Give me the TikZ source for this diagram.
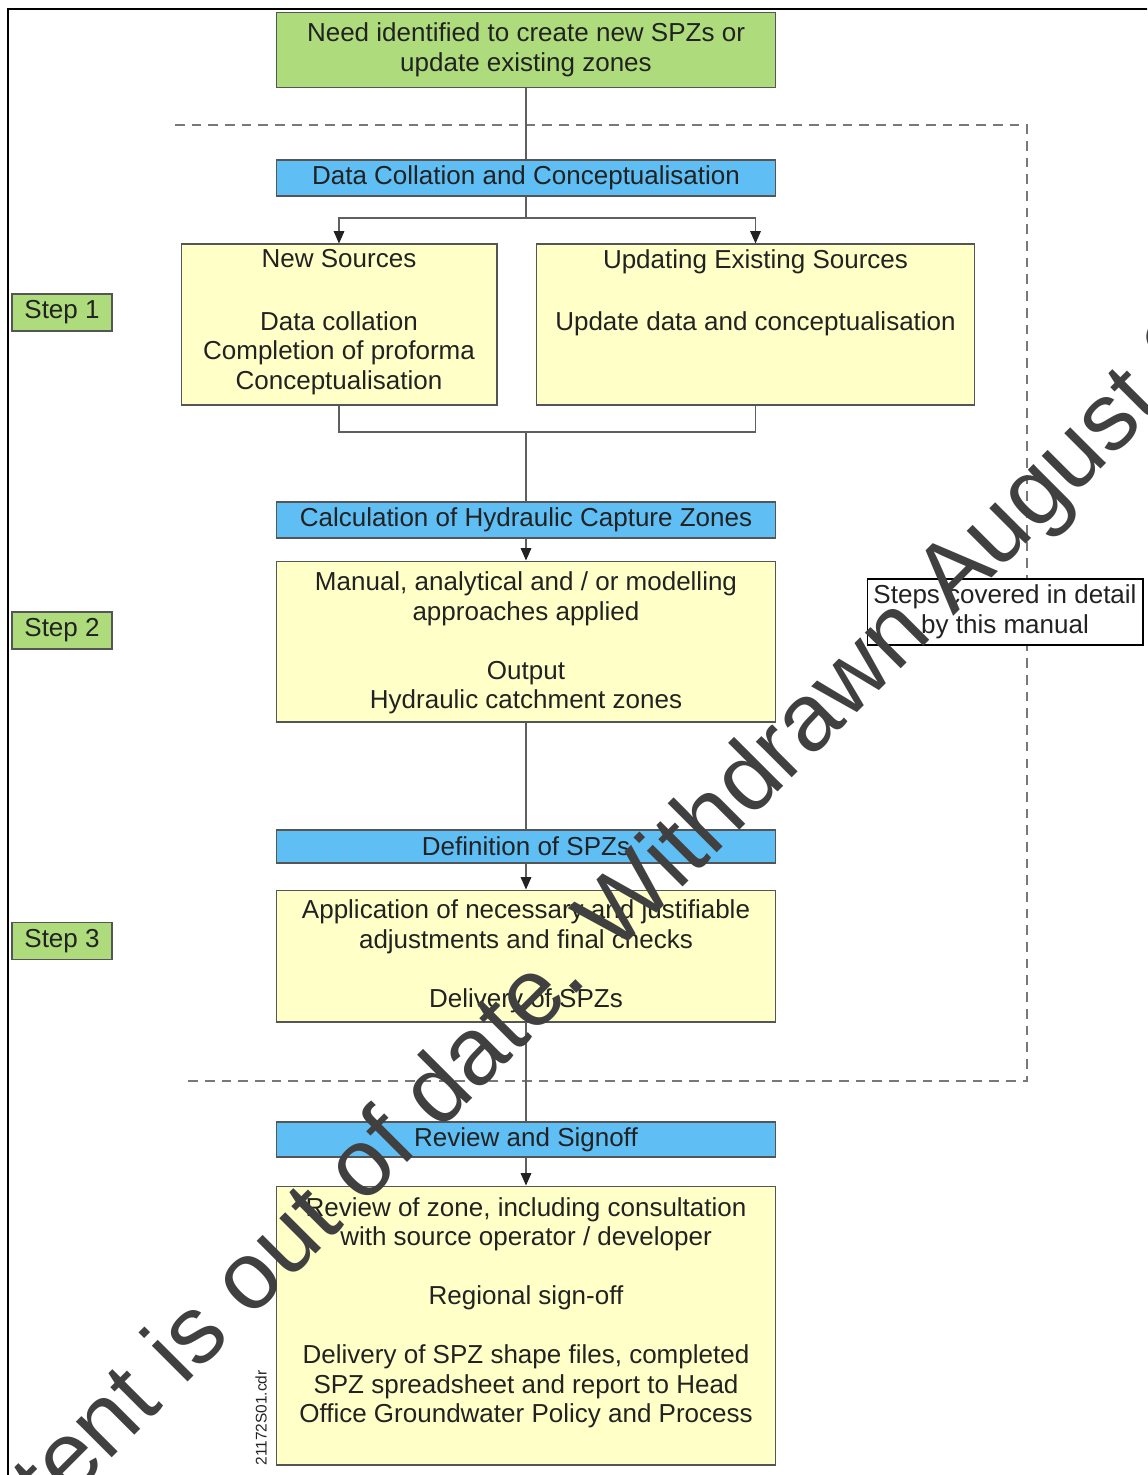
\documentclass[tikz,border=0pt]{standalone}
\usepackage{fontspec}
\setmainfont{Liberation Sans}
\usetikzlibrary{positioning,arrows.meta}

\definecolor{spzgreen}{RGB}{174,220,124}
\definecolor{spzblue}{RGB}{95,190,243}
\definecolor{spzyellow}{RGB}{255,255,200}
\definecolor{boxline}{RGB}{85,85,85}
\definecolor{linkgray}{RGB}{95,95,95}
\definecolor{dashgray}{RGB}{120,120,120}
\definecolor{inkdark}{RGB}{34,34,34}
\definecolor{markgray}{RGB}{64,64,64}

\newcommand{\boxfont}{\fontsize{14.8}{16.8}\selectfont}
\newcommand{\markfont}{\fontsize{54.5}{60}\selectfont}
\newcommand{\tagfont}{\fontsize{8.8}{10}\selectfont}

\tikzset{
  basebox/.style={draw=boxline, line width=0.6pt, text=inkdark, font=\boxfont, align=center, inner sep=0pt},
  greenbox/.style={basebox, fill=spzgreen},
  bluebar/.style={basebox, fill=spzblue, minimum width=10cm},
  yellowbox/.style={basebox, fill=spzyellow},
  stepbox/.style={basebox, fill=spzgreen, minimum width=2cm, minimum height=0.74cm},
  notebox/.style={basebox, draw=black, fill=white},
  boxtext/.style={text=inkdark, font=\boxfont, align=center, inner sep=0pt},
  link/.style={draw=linkgray, line width=0.7pt},
}

\begin{document}
\begin{tikzpicture}[x=0.02cm, y=-0.02cm, >={Triangle[length=7pt,width=6pt,color=inkdark]}]

	\useasboundingbox (0,0) rectangle (1147,1475);
	\clip (0,0) rectangle (1147,1475);

	% FRAME
	\draw[black, line width=1.4pt] (8,1480) -- (8,9) -- (1150,9);

	% MANUAL SCOPE
	\draw[dashgray, line width=0.8pt, dash pattern=on 5.5pt off 4pt] (175,125) -- (1027,125) -- (1027,1081) -- (183,1081);

	% Start
	\node[greenbox, minimum width=10cm, minimum height=1.5cm] (need) at (526,50) {Need identified to create new SPZs or\\update existing zones};

	% Step 1
	\node[bluebar, minimum height=0.72cm] (dcc) at (526,178) {Data Collation and Conceptualisation};
	\node[yellowbox, minimum width=6.32cm, minimum height=3.22cm] (ns) at (339,324.5) {};
	\node[boxtext, below=0.11cm of ns.north] (ns-text) {New Sources\\[2pt]~\\Data collation\\Completion of proforma\\Conceptualisation};
	\node[yellowbox, minimum width=8.78cm, minimum height=3.22cm] (ues) at (755.5,324.5) {};
	\node[boxtext, below=0.11cm of ues.north] (ues-text) {Updating Existing Sources\\[2pt]~\\Update data and conceptualisation};

	% Step 2
	\node[bluebar, minimum height=0.72cm] (hcz) at (526,520) {Calculation of Hydraulic Capture Zones};
	\node[yellowbox, minimum width=10cm, minimum height=3.22cm] (mam) at (526,641.5) {};
	\node[boxtext, below=0.22cm of mam.north] (mam-text) {Manual, analytical and / or modelling\\approaches applied\\~\\Output\\Hydraulic catchment zones};

	% Step 3
	\node[bluebar, minimum height=0.66cm] (defn) at (526,846.5) {Definition of SPZs};
	\node[yellowbox, minimum width=10cm, minimum height=2.64cm] (adj) at (526,956) {};
	\node[boxtext, below=0.2cm of adj.north] (adj-text) {Application of necessary and justifiable\\adjustments and final checks\\~\\Delivery of SPZs};

	% Signoff
	\node[bluebar, minimum height=0.7cm] (rev) at (526,1139.5) {Review and Signoff};
	\node[yellowbox, minimum width=10cm, minimum height=5.58cm] (del) at (526,1325.5) {};
	\node[boxtext, below=0.23cm of del.north] (del-text) {Review of zone, including consultation\\with source operator / developer\\~\\Regional sign-off\\~\\Delivery of SPZ shape files, completed\\SPZ spreadsheet and report to Head\\Office Groundwater Policy and Process};

	% step labels
	\foreach \n/\y in {1/312.5, 2/630.5, 3/941}
	\node[stepbox] (step\n) at (62,\y) {Step \n};

	\node[notebox, minimum width=5.52cm, minimum height=1.32cm] (note) at (1005,612) {Steps covered in detail\\by this manual};

	% connectors
	\coordinate (split) at (526,218);
	\coordinate (merge) at (526,432);
	\draw[link] (need.south) -- (dcc.north);
	\draw[link] (dcc.south) -- (split);
	\draw[link, ->] (split) -| (ns.north);
	\draw[link, ->] (split) -| (ues.north);
	\draw[link] (ns.south) |- (merge) -| (ues.south);
	\draw[link] (merge) -- (hcz.north);
	\draw[link, ->] (hcz.south) -- (mam.north);
	\draw[link] (mam.south) -- (defn.north);
	\draw[link, ->] (defn.south) -- (adj.north);
	\draw[link] (adj.south) -- (rev.north);
	\draw[link, ->] (rev.south) -- (del.north);

	% file tag
	\node[rotate=90, font=\tagfont, text=inkdark, inner sep=0pt] (tag) at (261,1418) {21172S01.cdr};

	% watermark
	\node[rotate=45, anchor=base west, font=\markfont, text=markgray, inner sep=0pt] (mark) at (-58,1628) {content is out of date. Withdrawn August 2};

\end{tikzpicture}
\end{document}
